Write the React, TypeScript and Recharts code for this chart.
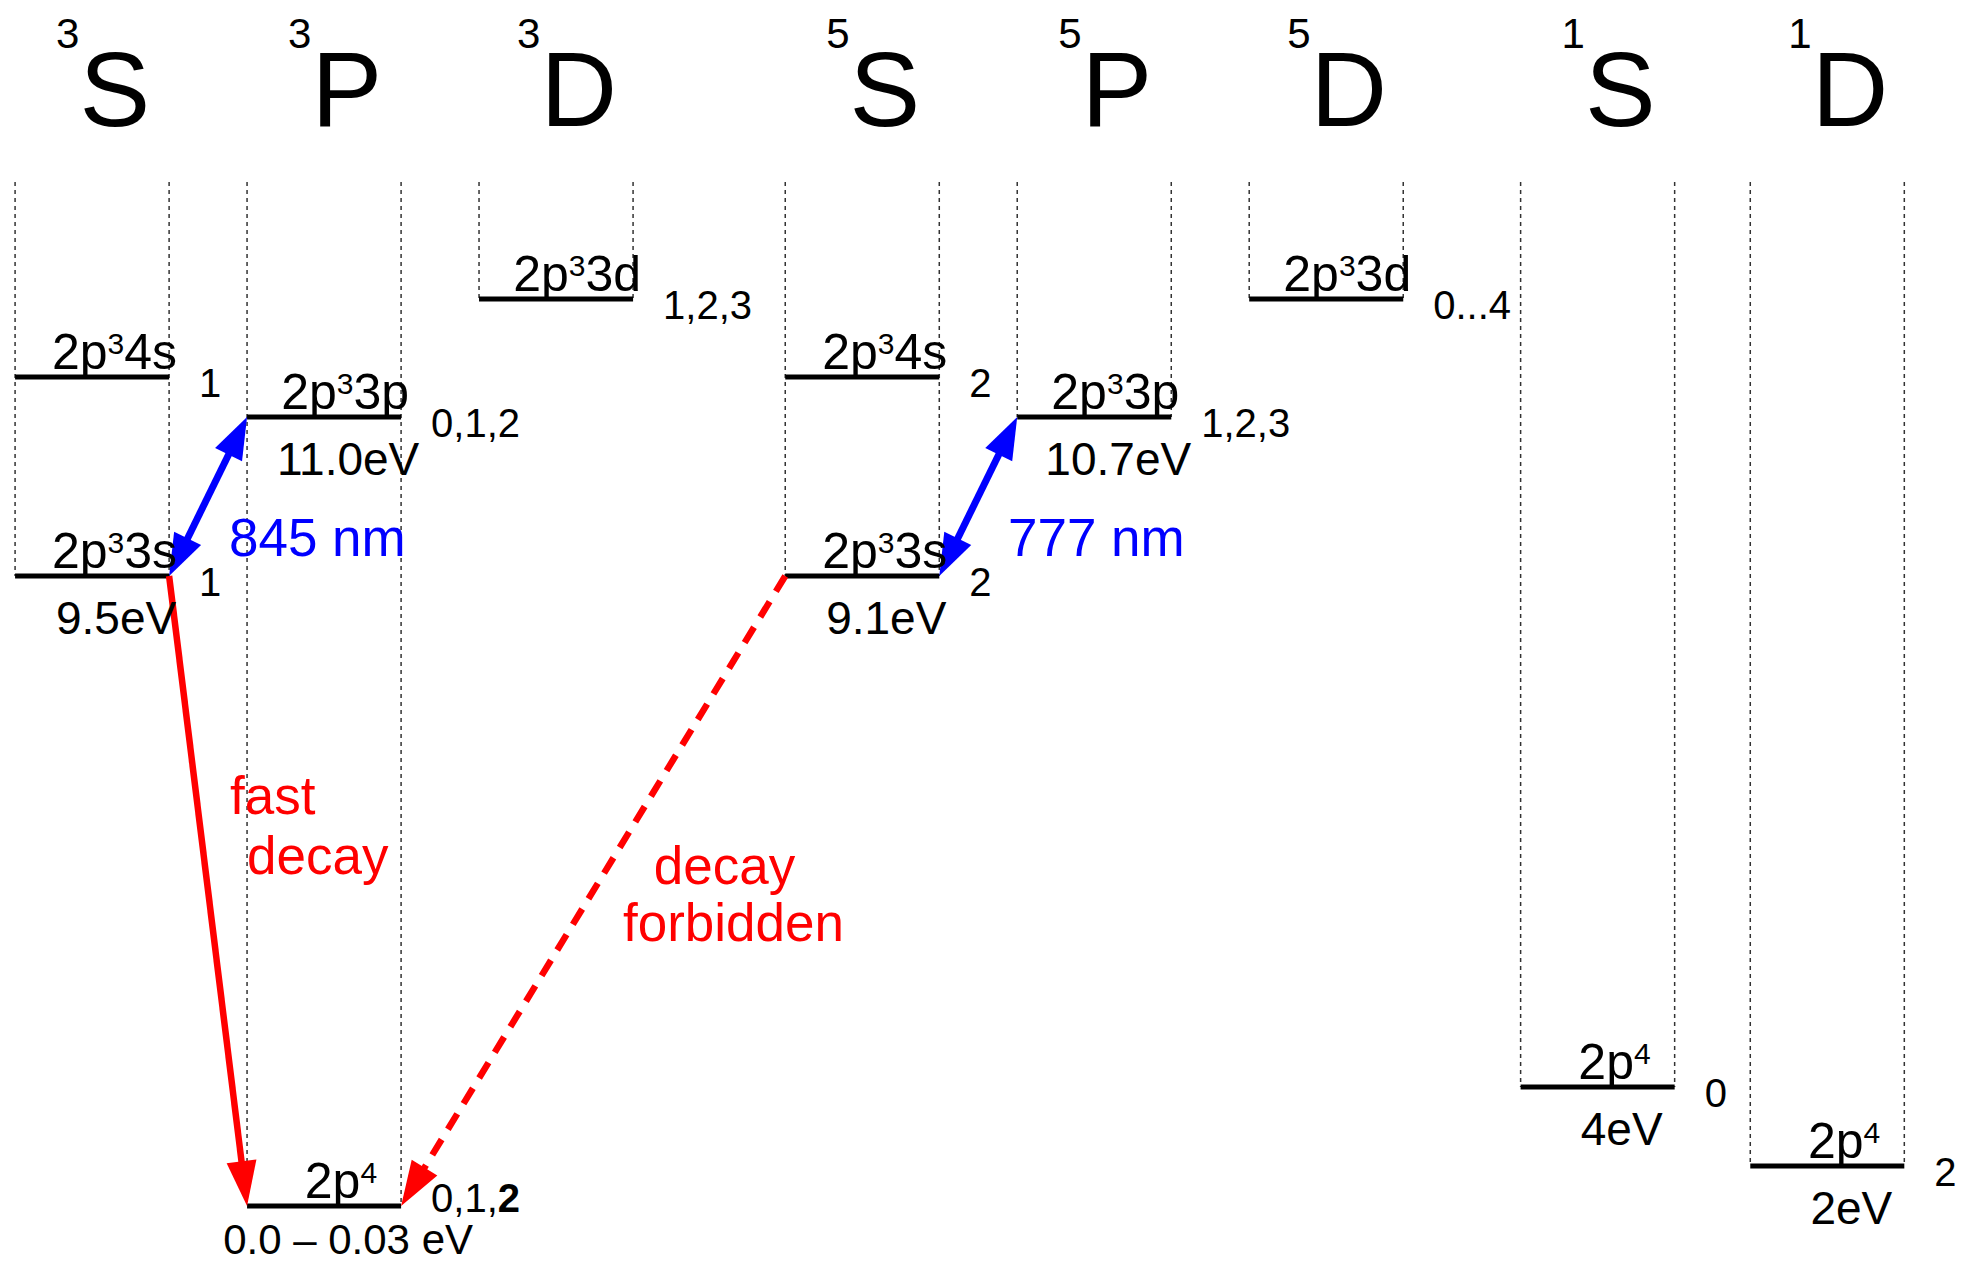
import React from 'react';
import { ComposedChart, XAxis, YAxis, ReferenceLine, ReferenceDot } from 'recharts';

// term columns: multiplicity, letter and their slot on the x axis
const termMult = ['3', '3', '3', '5', '5', '5', '1', '1'];
const termLetter = ['S', 'P', 'D', 'S', 'P', 'D', 'S', 'D'];
const termSlot = [0, 1, 2, 3.32, 4.32, 5.32, 6.49, 7.48];

// levels (diagram height, not to scale)
const levelTerm = [0, 0, 1, 1, 2, 3, 3, 4, 5, 6, 7];
const levelConfig = ['2p³4s', '2p³3s', '2p³3p', '2p⁴', '2p³3d', '2p³4s', '2p³3s', '2p³3p', '2p³3d', '2p⁴', '2p⁴'];
const levelHeight = [829, 630, 789, 0, 907, 829, 630, 789, 907, 119, 40];
const levelEnergy = ['', '9.5eV', '11.0eV', '0.0 – 0.03 eV', '', '', '9.1eV', '10.7eV', '', '4eV', '2eV'];
const levelJ = ['1', '1', '0,1,2', '0,1,2', '1,2,3', '2', '2', '1,2,3', '0...4', '0', '2'];
const levelJBoldLast = [false, false, false, true, false, false, false, false, false, false, false];

// transitions between level ends
const transFrom = [1, 6, 1, 6];
const transFromEnd = [1, 1, 1, -1];
const transTo = [2, 7, 3, 3];
const transToEnd = [-1, -1, -1, 1];
const transColor = ['#0000ff', '#0000ff', '#ff0000', '#ff0000'];
const transDashed = [false, false, false, true];
const transBoth = [true, true, false, false];

// annotation texts
const noteText = ['845 nm', '777 nm', 'fast', 'decay', 'decay', 'forbidden'];
const noteColor = ['#0000ff', '#0000ff', '#ff0000', '#ff0000', '#ff0000', '#ff0000'];
const noteX = [0.59, 3.948, 0.595, 0.668, 2.726, 2.765];
const noteY = [650, 650, 392, 332, 322, 265];
const noteAnchor = ['start', 'start', 'start', 'start', 'middle', 'middle'];

const HALF = 0.332;
const DOT_TOP = 1024;
const HEADER_Y = 1080;
const FONT = '"Liberation Sans", Arial, Helvetica, sans-serif';

const SUP: Record<string, string> = { '³': '3', '⁴': '4' };

function rich(s: string, size: number, boldLast = false) {
  const parts: { t: string; sup: boolean }[] = [];
  let buf = '';
  for (const ch of s) {
    if (SUP[ch]) {
      if (buf) parts.push({ t: buf, sup: false });
      buf = '';
      parts.push({ t: SUP[ch], sup: true });
    } else buf += ch;
  }
  if (buf) parts.push({ t: buf, sup: false });
  let raised = false;
  const spans: any[] = [];
  parts.forEach((p, i) => {
    let dy = 0;
    if (p.sup && !raised) { dy = -0.3 * size; raised = true; }
    if (!p.sup && raised) { dy = 0.3 * size; raised = false; }
    if (boldLast && i === parts.length - 1 && !p.sup) {
      spans.push(<tspan key={i} dy={dy}>{p.t.slice(0, -1)}</tspan>);
      spans.push(<tspan key={i + 'b'} fontWeight="bold">{p.t.slice(-1)}</tspan>);
      return;
    }
    spans.push(
      <tspan key={i} dy={dy} fontSize={p.sup ? size * 0.6 : size}>{p.t}</tspan>
    );
  });
  return spans;
}

const arrowShape = (color: string, dashed: boolean, both: boolean) => (p: any) => {
  const { x1, y1, x2, y2 } = p;
  const len = Math.hypot(x2 - x1, y2 - y1);
  const ux = (x2 - x1) / len;
  const uy = (y2 - y1) / len;
  const hl = both ? 42 : 45;
  const hw = 15;
  const head = (tx: number, ty: number, dx: number, dy: number) => {
    const bx = tx - dx * hl;
    const by = ty - dy * hl;
    return `${tx},${ty} ${bx - dy * hw},${by + dx * hw} ${bx + dy * hw},${by - dx * hw}`;
  };
  const cut = hl - 6;
  const sx = both ? x1 + ux * cut : x1;
  const sy = both ? y1 + uy * cut : y1;
  return (
    <g>
      <line
        x1={sx}
        y1={sy}
        x2={x2 - ux * cut}
        y2={y2 - uy * cut}
        stroke={color}
        strokeWidth={both ? 7 : 6.5}
        strokeDasharray={dashed ? '18 12' : undefined}
      />
      <polygon points={head(x2, y2, ux, uy)} fill={color} />
      {both && <polygon points={head(x1, y1, -ux, -uy)} fill={color} />}
    </g>
  );
};

const App: React.FC = () => {
  const colBottom = termSlot.map((_, c) =>
    Math.min(...levelHeight.filter((_, i) => levelTerm[i] === c))
  );

  return (
    <div style={{ position: 'absolute', left: 0, top: 0, width: 1963, height: 1266, background: '#fff' }}>
      <ComposedChart width={1963} height={1266} margin={{ top: 0, right: 0, bottom: 0, left: 0 }}>
        <XAxis type="number" dataKey="x" domain={[-0.397, 8.065]} allowDataOverflow hide />
        <YAxis type="number" dataKey="y" domain={[-60, 1206]} allowDataOverflow hide />

        {/* dotted column guides */}
        {termSlot.map((s, c) =>
          [-1, 1].map((side) => (
            <ReferenceLine
              key={`g${c}${side}`}
              segment={[{ x: s + side * HALF, y: DOT_TOP }, { x: s + side * HALF, y: colBottom[c] }]}
              stroke="#333"
              strokeWidth={1.5}
              strokeDasharray="4 4"
            />
          ))
        )}

        {/* term headers */}
        {termSlot.map((s, c) => (
          <ReferenceDot
            key={`h${c}`}
            x={s}
            y={HEADER_Y}
            r={0}
            shape={(p: any) => (
              <text x={p.cx + 11} y={p.cy} textAnchor="middle" fontFamily={FONT} fill="#000">
                <tspan fontSize={42} dy={-78}>{termMult[c]}</tspan>
                <tspan fontSize={106} dy={78}>{termLetter[c]}</tspan>
              </text>
            )}
          />
        ))}

        {/* levels */}
        {levelHeight.map((h, i) => (
          <ReferenceLine
            key={`l${i}`}
            segment={[{ x: termSlot[levelTerm[i]] - HALF, y: h }, { x: termSlot[levelTerm[i]] + HALF, y: h }]}
            stroke="#000"
            strokeWidth={5}
          />
        ))}

        {/* transitions */}
        {transFrom.map((f, k) => (
          <ReferenceLine
            key={`t${k}`}
            segment={[
              { x: termSlot[levelTerm[f]] + transFromEnd[k] * HALF, y: levelHeight[f] },
              { x: termSlot[levelTerm[transTo[k]]] + transToEnd[k] * HALF, y: levelHeight[transTo[k]] },
            ]}
            shape={arrowShape(transColor[k], transDashed[k], transBoth[k])}
          />
        ))}

        {/* level labels */}
        {levelHeight.map((h, i) => (
          <ReferenceDot
            key={`ll${i}`}
            x={termSlot[levelTerm[i]] + HALF}
            y={h}
            r={0}
            shape={(p: any) => {
              const shortCfg = !/[a-z]$/.test(levelConfig[i]);
              const ground = h === 0;
              return (
                <g fontFamily={FONT} fill="#000">
                  <text
                    x={shortCfg ? p.cx - 24 : p.cx + 8}
                    y={p.cy - 8}
                    textAnchor="end"
                    fontSize={50}
                  >
                    {rich(levelConfig[i], 50)}
                  </text>
                  {levelEnergy[i] && (
                    <text
                      x={p.cx - 53}
                      y={p.cy + (ground ? 48 : 58)}
                      textAnchor="middle"
                      fontSize={ground ? 42 : 46}
                    >
                      {levelEnergy[i]}
                    </text>
                  )}
                  <text x={p.cx + 30} y={p.cy + (ground ? 6 : 20)} fontSize={40}>
                    {rich(levelJ[i], 40, levelJBoldLast[i])}
                  </text>
                </g>
              );
            }}
          />
        ))}

        {/* notes */}
        {noteText.map((t, k) => (
          <ReferenceDot
            key={`n${k}`}
            x={noteX[k]}
            y={noteY[k]}
            r={0}
            shape={(p: any) => (
              <text
                x={p.cx}
                y={p.cy}
                textAnchor={noteAnchor[k]}
                fontFamily={FONT}
                fontSize={53}
                fill={noteColor[k]}
              >
                {t}
              </text>
            )}
          />
        ))}
      </ComposedChart>
    </div>
  );
};

export default App;
